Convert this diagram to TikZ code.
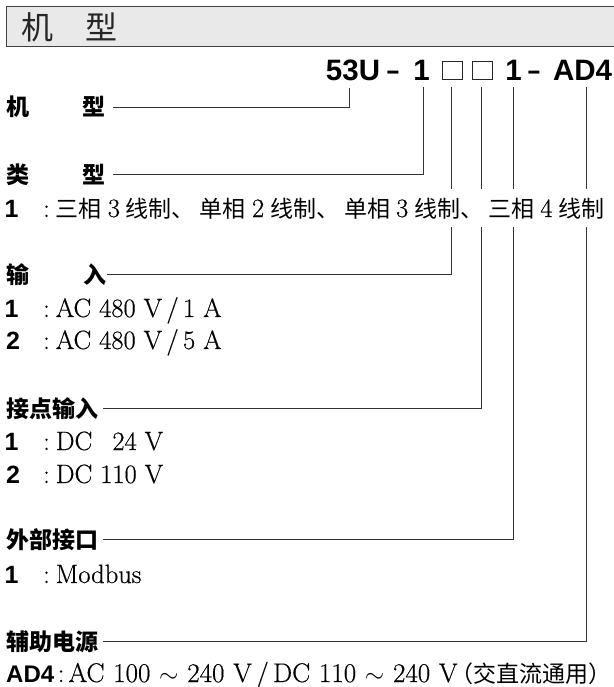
\documentclass[tikz,border=0pt]{standalone}
\usepackage{fontspec}
\newfontfamily\cjk{Noto Sans CJK SC}
\newfontfamily\hv{Liberation Sans}
\newfontfamily\srf{Latin Modern Roman}[FakeBold=0.5]
\newcommand\zhr[1]{{\cjk\fontsize{23}{23}\selectfont #1}}
\newcommand\gapx{\hspace{6pt plus 1fil}}
\begin{document}
\begin{tikzpicture}[x=1pt,y=-1pt,
  lab/.style={anchor=base west, inner sep=0pt, text height=18pt, text depth=0pt, font=\cjk\bfseries\fontsize{23}{23}\selectfont},
  mdl/.style={anchor=base, inner sep=0pt, font=\hv\bfseries\fontsize{29.5}{30}\selectfont},
  sqr/.style={draw=black!85, line width=1pt, minimum width=20pt, minimum height=18pt, inner sep=0pt},
  num/.style={anchor=base west, inner sep=0pt, font=\hv\bfseries\fontsize{25}{25}\selectfont},
  itm/.style={anchor=base west, inner sep=0pt, font=\srf\fontsize{26.5}{26.5}\selectfont},
  conn/.style={draw=black!80, line width=0.9pt}]
\useasboundingbox (0,0) rectangle (613,687);
% header
\draw[fill=gray!17, draw=black!75, line width=1pt] (6,7) rectangle (616,47);
\node[anchor=base west, inner sep=0pt, text=black!85, font=\cjk\fontsize{32}{32}\selectfont] (hdr) at (21.5,40) {机\hspace{32pt}型};
% model string
\node[mdl] (m53) at (353,81) {53U};
\node[mdl] (d1) at (393,81) {\scalebox{0.75}[1]{–}};
\node[mdl] (m1) at (421.6,81) {1};
\node[sqr] (s1) at (452,71) {};
\node[sqr] (s2) at (482,71) {};
\node[mdl] (m1b) at (513.6,81) {1};
\node[mdl] (d2) at (534,81) {\scalebox{0.75}[1]{–}};
\node[mdl] (mAD) at (582.5,81) {AD4};
% labels
\node[lab] (l1) at (6,116) {机\hspace{53pt}型};
\node[lab] (l2) at (6,183) {类\hspace{53pt}型};
\node[lab] (l3) at (6,283) {输\hspace{54pt}入};
\node[lab] (l4) at (6,417) {接点输入};
\node[lab] (l5) at (6,548) {外部接口};
\node[lab] (l6) at (6,650) {辅助电源};
% connectors
\draw[conn] ([xshift=-4pt,yshift=-6pt]m53.south) |- ([xshift=8pt]l1.east);
\draw[conn] ([xshift=1.4pt,yshift=-6pt]m1.south) |- ([xshift=8pt]l2.east);
\draw[conn] ([xshift=-1pt,yshift=-6.5pt]s1.south) |- ([xshift=1pt]l3.east);
\draw[conn] ([xshift=-1pt,yshift=-6.5pt]s2.south) |- ([xshift=5pt]l4.east);
\draw[conn] ([xshift=-0.6pt,yshift=-6pt]m1b.south) |- ([xshift=5pt]l5.east);
\draw[conn] ([xshift=3.5pt,yshift=-6pt]mAD.south) |- ([xshift=5pt]l6.east);
% items
\node[num] (n1) at (4.5,217) {1};
\node[itm, fill=white, text height=28pt, text depth=10pt] (t1) at (43,217) {:\hspace{6pt}\zhr{三相}\hspace{6pt}3\hspace{6pt}\zhr{线制、}\hspace{5pt}\zhr{单相}\hspace{6pt}2\hspace{6pt}\zhr{线制、}\hspace{5pt}\zhr{单相}\hspace{6pt}3\hspace{6pt}\zhr{线制、}\hspace{5pt}\zhr{三相}\hspace{6pt}4\hspace{6pt}\zhr{线制}};
\node[num] (n2) at (4.5,317) {1};
\node[itm] (t2) at (43,317) {:\hspace{6pt}AC 480 V\,/\,1 A};
\node[num] (n3) at (6,349) {2};
\node[itm] (t3) at (43,349) {:\hspace{6pt}AC 480 V\,/\,5 A};
\node[num] (n4) at (4.5,450) {1};
\node[itm] (t4) at (43,450) {:\hspace{6pt}DC\ \hphantom{1}24 V};
\node[num] (n5) at (6,483) {2};
\node[itm] (t5) at (43,483) {:\hspace{6pt}DC 110 V};
\node[num] (n6) at (4.5,583) {1};
\node[itm] (t6) at (43,583) {:\hspace{6pt}Modbus};
\node[num, font=\hv\bfseries\fontsize{24}{24}\selectfont] (n7) at (6,682) {AD4};
\node[itm, font=\srf\fontsize{27}{27}\selectfont] (t7) at (57.5,682) {\makebox[554pt][s]{:\hspace{4pt}AC\gapx 100\gapx$\sim$\gapx 240\gapx V\hspace{3pt plus 0.5fil}/\hspace{3pt plus 0.5fil}DC\gapx 110\gapx$\sim$\gapx 240\gapx V\hspace{-7pt}\zhr{（交直流通用）}}};
\end{tikzpicture}
\end{document}
